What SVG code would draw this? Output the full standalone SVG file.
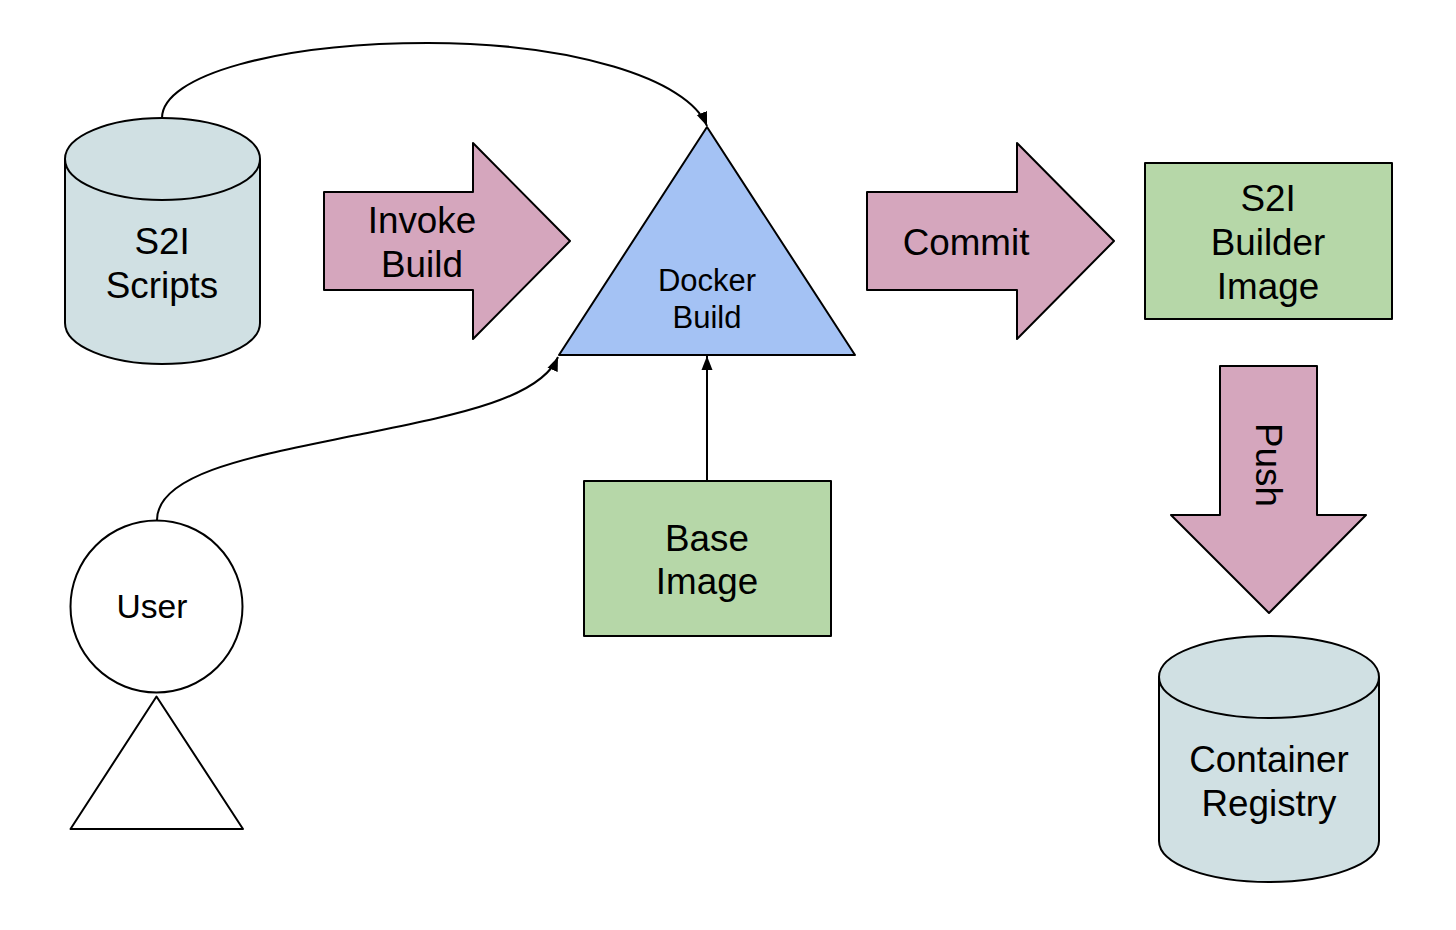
<svg xmlns="http://www.w3.org/2000/svg" width="1456" height="930" viewBox="0 0 1456 930">
<style>
.s{stroke:#000;stroke-width:2;stroke-linejoin:round}
.c{fill:#d0e0e3}.p{fill:#d5a6bd}.g{fill:#b6d7a8}.b{fill:#a4c2f4}.w{fill:#fff}
.n{fill:none}
text{font-family:"Liberation Sans",Arial,sans-serif;font-size:36.8px;text-anchor:middle;fill:#000}
.sm{font-size:31px}
.u{font-size:33.6px}
.e{fill:none;stroke:#000;stroke-width:2}
</style>
<defs><marker id="a" markerWidth="16" markerHeight="13" refX="14" refY="6" orient="auto" markerUnits="userSpaceOnUse"><path d="M0 0.5L14 6L0 11.5Z" fill="#000"/></marker></defs>
<rect width="1456" height="930" fill="#fff"/>
<g id="connectors">
<path class="e" d="M162 118C162 75 280 43 428 43C570 43 688 78 707 126" marker-end="url(#a)"/>
<path class="e" d="M157 520C157 472 260 455 357 435C450 416 540 400 558 357" marker-end="url(#a)"/>
<path class="e" d="M707 480V356" marker-end="url(#a)"/>
</g>
<g id="s2i-scripts">
<path class="s c" d="M65 159C65 136 109 118 162 118C216 118 260 136 260 159V323C260 346 216 364 162 364C109 364 65 346 65 323Z"/>
<path class="s n" d="M65 159C65 182 109 200 162 200C216 200 260 182 260 159"/>
<text x="162" y="254">S2I</text><text x="162" y="298">Scripts</text>
</g>
<g id="invoke-build">
<path class="s p" d="M324 192H473V143L570 241L473 339V290H324Z"/>
<text x="422" y="233">Invoke</text><text x="422" y="277">Build</text>
</g>
<g id="docker-build">
<path class="s b" d="M707 127L855 355H559Z"/>
<text class="sm" x="707" y="291">Docker</text><text class="sm" x="707" y="328">Build</text>
</g>
<g id="commit">
<path class="s p" d="M867 192H1017V143L1114 241L1017 339V290H867Z"/>
<text x="966" y="255">Commit</text>
</g>
<g id="s2i-builder-image">
<rect class="s g" x="1145" y="163" width="247" height="156"/>
<text x="1268" y="211">S2I</text><text x="1268" y="255">Builder</text><text x="1268" y="299">Image</text>
</g>
<g id="push">
<path class="s p" d="M1220 366H1317V515H1366L1269 613L1171 515H1220Z"/>
<text transform="translate(1256 465) rotate(90)">Push</text>
</g>
<g id="base-image">
<rect class="s g" x="584" y="481" width="247" height="155"/>
<text x="707" y="551">Base</text><text x="707" y="594">Image</text>
</g>
<g id="container-registry">
<path class="s c" d="M1159 677C1159 654 1208 636 1269 636C1330 636 1379 654 1379 677V841C1379 864 1330 882 1269 882C1208 882 1159 864 1159 841Z"/>
<path class="s n" d="M1159 677C1159 700 1208 718 1269 718C1330 718 1379 700 1379 677"/>
<text x="1269" y="772">Container</text><text x="1269" y="816">Registry</text>
</g>
<g id="user">
<circle class="s w" cx="156.5" cy="606.5" r="86"/>
<path class="s w" d="M156.5 696.5L243 829H70.5Z"/>
<text class="u" x="152" y="618">User</text>
</g>
</svg>
